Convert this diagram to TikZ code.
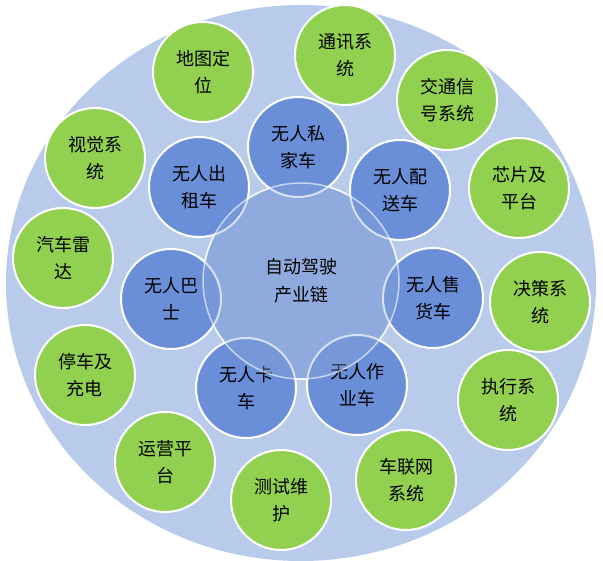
\documentclass[tikz,border=0pt]{standalone}
\usepackage{fontspec}
\setmainfont{Noto Sans CJK SC}
\begin{document}
\begin{tikzpicture}[x=1pt,y=-1pt,
  core/.style={circle,draw=white,line width=1.5pt,minimum size=196pt,align=center,font=\fontsize{18}{28}\selectfont},
  inner/.style={circle,draw=white,line width=2pt,minimum size=100pt,align=center,font=\fontsize{18}{27}\selectfont},
  green/.style={circle,draw=white,line width=2pt,minimum size=100pt,align=center,font=\fontsize{18}{27}\selectfont}]
\definecolor{ob}{HTML}{B8CBEA}
\definecolor{cb}{HTML}{8FAADC}
\definecolor{ib}{HTML}{6A8FD8}
\definecolor{gr}{HTML}{92D050}
\tikzset{inner/.append style={fill=ib},green/.append style={fill=gr}}
\useasboundingbox (0,0) rectangle (603,561);
\fill[ob] (301,283) ellipse (295pt and 278pt);
\node[core,fill=cb] (c0) at (301,281) {};
\node[inner] (i1) at (298,147) {无人私\\家车};
\node[inner] (i2) at (400,190) {无人配\\送车};
\node[inner] (i3) at (433,298) {无人售\\货车};
\node[inner] (i4) at (357,385) {无人作\\业车};
\node[inner] (i5) at (246,388) {无人卡\\车};
\node[inner] (i6) at (171,299) {无人巴\\士};
\node[inner] (i7) at (199,187) {无人出\\租车};
\node[core,fill=cb,fill opacity=0.35,draw opacity=0.6,text opacity=1] (c) at (301,281) {自动驾驶\\产业链};
\node[green] (g1) at (203,72) {地图定\\位};
\node[green] (g2) at (345,55) {通讯系\\统};
\node[green] (g3) at (447,100) {交通信\\号系统};
\node[green] (g4) at (519,188) {芯片及\\平台};
\node[green] (g5) at (540,302) {决策系\\统};
\node[green] (g6) at (508,400) {执行系\\统};
\node[green] (g7) at (406,480) {车联网\\系统};
\node[green] (g8) at (281,500) {测试维\\护};
\node[green] (g9) at (165,462) {运营平\\台};
\node[green] (g10) at (85,375) {停车及\\充电};
\node[green] (g11) at (63,258) {汽车雷\\达};
\node[green] (g12) at (95,158) {视觉系\\统};
\end{tikzpicture}
\end{document}
